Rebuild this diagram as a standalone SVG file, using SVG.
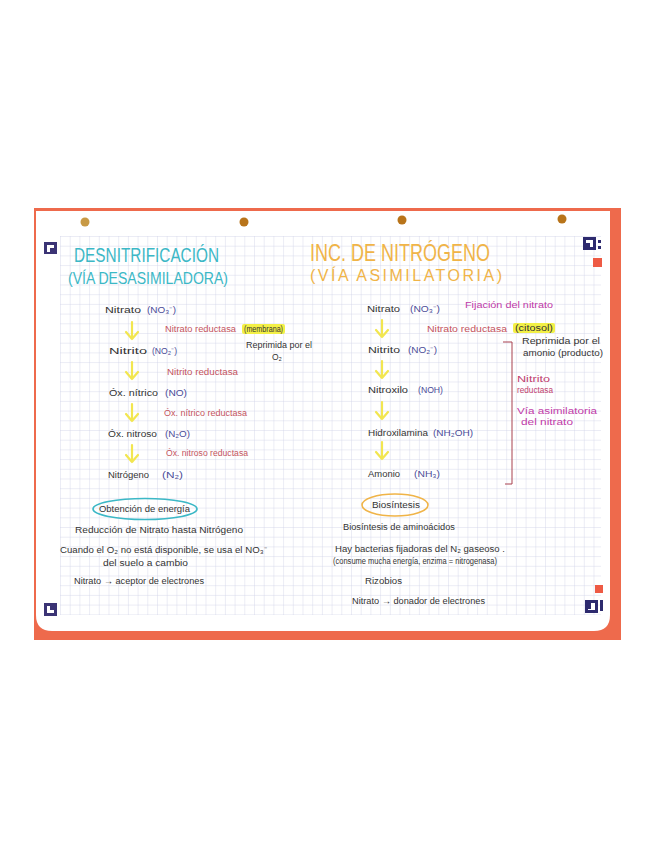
<svg xmlns="http://www.w3.org/2000/svg" width="655" height="848" viewBox="0 0 655 848">
<defs>
<pattern id="grid" x="60" y="236" width="9.7" height="9.7" patternUnits="userSpaceOnUse">
<path d="M0 0H9.7M0 0V9.7" fill="none" stroke="#cdd0e6" stroke-width="0.8"/>
</pattern>
<g id="arrow">
<path d="M0 0V17M-6 10L0 17L6 10" fill="none" stroke="#f2e650" stroke-width="2.2" stroke-linecap="round" stroke-linejoin="round"/>
</g>
</defs>
<style>
text{font-family:"Liberation Sans",Arial,sans-serif;}
.t{font-size:8.5px;fill:#333333;}
.f{font-size:8.5px;fill:#4b4c98;}
.e{font-size:8.5px;fill:#c4545e;}
.r{font-size:8.5px;fill:#c0406e;}
.m{font-size:8.5px;fill:#c03aa8;}
.tt{fill:#3cb8c6;}
.to{fill:#f0b448;}
.hl{fill:#f3f046;}
</style>
<rect width="655" height="848" fill="#ffffff"/>
<g id="paper">
<rect x="34" y="208" width="587" height="432" fill="#ee6a4c"/>
<path d="M36 211H610V615Q610 631 594 631H52Q36 631 36 615Z" fill="#ffffff"/>
<rect x="60" y="236" width="541" height="379" fill="url(#grid)"/>
<circle cx="85" cy="222" r="4.5" fill="#c89a45"/>
<circle cx="244" cy="222" r="4.5" fill="#b8741a"/>
<circle cx="402" cy="220" r="4.5" fill="#b8741a"/>
<circle cx="562" cy="219" r="4.5" fill="#b8741a"/>
<rect x="44" y="242" width="13" height="12" fill="#3b3475"/>
<path d="M47 252V245H54V248H50V252Z" fill="#ffffff"/>
<rect x="583" y="237" width="13" height="13" fill="#2d2a6e"/>
<path d="M586 240H593V247H590V243H586Z" fill="#ffffff"/>
<rect x="598" y="240" width="3" height="3" fill="#2d2a6e"/>
<rect x="598" y="246" width="3" height="3" fill="#2d2a6e"/>
<rect x="593" y="258" width="9" height="9" fill="#ee5a44"/>
<rect x="44" y="603" width="13" height="13" fill="#3b3475"/>
<path d="M47 606V613H54V610H50V606Z" fill="#ffffff"/>
<rect x="595" y="585" width="8" height="8" fill="#ee5a44"/>
<rect x="585" y="600" width="13" height="13" fill="#2d2a6e"/>
<path d="M588 609H591V603H595V610H588Z" fill="#ffffff"/>
<rect x="600" y="600" width="3" height="11" fill="#2d2a6e"/>
</g>
<g id="title-left">
<text x="74" y="262" font-size="21" class="tt" textLength="145" lengthAdjust="spacingAndGlyphs">DESNITRIFICACIÓN</text>
<text x="68" y="284" font-size="16" class="tt" textLength="160" lengthAdjust="spacingAndGlyphs">(VÍA DESASIMILADORA)</text>
</g>
<g id="title-right">
<text x="310" y="261" font-size="24" class="to" textLength="180" lengthAdjust="spacingAndGlyphs">INC. DE NITRÓGENO</text>
<text x="310" y="281" font-size="16" class="to" textLength="192" lengthAdjust="spacing">(VÍA ASIMILATORIA)</text>
</g>
<g id="connectors">
<use href="#arrow" x="132" y="322"/>
<use href="#arrow" x="132" y="362"/>
<use href="#arrow" x="132" y="404"/>
<use href="#arrow" x="132" y="445"/>
<use href="#arrow" x="382" y="320"/>
<use href="#arrow" x="382" y="361"/>
<use href="#arrow" x="382" y="402"/>
<use href="#arrow" x="382" y="442"/>
<path d="M503 342H512V484H505" fill="none" stroke="#a8404e" stroke-width="1"/>
</g>
<g id="l-nitrato">
<text x="105" y="313" class="t" textLength="36" lengthAdjust="spacingAndGlyphs">Nitrato</text>
<text x="147" y="313" class="f" textLength="29" lengthAdjust="spacingAndGlyphs">(NO₃⁻)</text>
</g>
<g id="l-enz1">
<text x="165" y="332" class="e" textLength="71" lengthAdjust="spacingAndGlyphs">Nitrato reductasa</text>
<rect x="242" y="324" width="43" height="10" rx="2" class="hl"/>
<text x="244" y="332" class="t" textLength="39" lengthAdjust="spacingAndGlyphs">(membrana)</text>
</g>
<g id="l-reprimida">
<text x="246" y="348" class="t" textLength="66" lengthAdjust="spacingAndGlyphs">Reprimida por el</text>
<text x="272" y="360" class="t">O₂</text>
</g>
<g id="l-nitrito">
<text x="109" y="354" class="t" textLength="38" lengthAdjust="spacingAndGlyphs">Nitrito</text>
<text x="152" y="354" class="f" textLength="25" lengthAdjust="spacingAndGlyphs">(NO₂⁻)</text>
</g>
<g id="l-enz2">
<text x="167" y="375" class="e" textLength="71" lengthAdjust="spacingAndGlyphs">Nitrito reductasa</text>
</g>
<g id="l-ox-nitrico">
<text x="109" y="396" class="t" textLength="49" lengthAdjust="spacingAndGlyphs">Óx. nítrico</text>
<text x="165" y="396" class="f" textLength="22" lengthAdjust="spacingAndGlyphs">(NO)</text>
</g>
<g id="l-enz3">
<text x="164" y="416" class="e" textLength="83" lengthAdjust="spacingAndGlyphs">Óx. nítrico reductasa</text>
</g>
<g id="l-ox-nitroso">
<text x="108" y="437" class="t" textLength="49" lengthAdjust="spacingAndGlyphs">Óx. nitroso</text>
<text x="165" y="437" class="f" textLength="25" lengthAdjust="spacingAndGlyphs">(N₂O)</text>
</g>
<g id="l-enz4">
<text x="166" y="456" class="e" textLength="82" lengthAdjust="spacingAndGlyphs">Óx. nitroso reductasa</text>
</g>
<g id="l-nitrogeno">
<text x="108" y="478" class="t" textLength="41" lengthAdjust="spacingAndGlyphs">Nitrógeno</text>
<text x="162" y="478" class="f" textLength="21" lengthAdjust="spacingAndGlyphs">(N₂)</text>
</g>
<g id="l-energia">
<ellipse cx="145" cy="509" rx="52" ry="10.5" fill="none" stroke="#3cb8c6" stroke-width="1.6"/>
<text x="99" y="512" class="t" textLength="91" lengthAdjust="spacingAndGlyphs">Obtención de energía</text>
</g>
<g id="l-notes">
<text x="75" y="533" class="t" textLength="168" lengthAdjust="spacingAndGlyphs">Reducción de Nitrato hasta Nitrógeno</text>
<text x="60" y="553" class="t" textLength="207" lengthAdjust="spacingAndGlyphs">Cuando el O₂ no está disponible, se usa el NO₃⁻</text>
<text x="103" y="566" class="t" textLength="85" lengthAdjust="spacingAndGlyphs">del suelo a cambio</text>
<text x="74" y="584" class="t" textLength="130" lengthAdjust="spacingAndGlyphs">Nitrato → aceptor de electrones</text>
</g>
<g id="r-nitrato">
<text x="367" y="312" class="t" textLength="33" lengthAdjust="spacingAndGlyphs">Nitrato</text>
<text x="410" y="312" class="f" textLength="30" lengthAdjust="spacingAndGlyphs">(NO₃⁻)</text>
</g>
<g id="r-fijacion">
<text x="465" y="308" class="m" textLength="88" lengthAdjust="spacingAndGlyphs">Fijación del nitrato</text>
</g>
<g id="r-enz1">
<text x="427" y="332" class="e" textLength="80" lengthAdjust="spacingAndGlyphs">Nitrato reductasa</text>
<rect x="513" y="323" width="42" height="10" rx="2" class="hl"/>
<text x="515" y="331" class="t" textLength="38" lengthAdjust="spacingAndGlyphs">(citosol)</text>
</g>
<g id="r-reprimida">
<text x="522" y="344" class="t" textLength="78" lengthAdjust="spacingAndGlyphs">Reprimida por el</text>
<text x="523" y="356" class="t" textLength="80" lengthAdjust="spacingAndGlyphs">amonio (producto)</text>
</g>
<g id="r-nitrito">
<text x="368" y="353" class="t" textLength="32" lengthAdjust="spacingAndGlyphs">Nitrito</text>
<text x="408" y="353" class="f" textLength="29" lengthAdjust="spacingAndGlyphs">(NO₂⁻)</text>
</g>
<g id="r-enz2">
<text x="517" y="382" class="r" textLength="33" lengthAdjust="spacingAndGlyphs">Nitrito</text>
<text x="517" y="393" class="r" textLength="36" lengthAdjust="spacingAndGlyphs">reductasa</text>
</g>
<g id="r-via">
<text x="517" y="414" class="m" textLength="80" lengthAdjust="spacingAndGlyphs">Vía asimilatoria</text>
<text x="521" y="425" class="m" textLength="52" lengthAdjust="spacingAndGlyphs">del nitrato</text>
</g>
<g id="r-nitroxilo">
<text x="368" y="393" class="t" textLength="40" lengthAdjust="spacingAndGlyphs">Nitroxilo</text>
<text x="418" y="393" class="f" textLength="25" lengthAdjust="spacingAndGlyphs">(NOH)</text>
</g>
<g id="r-hidroxilamina">
<text x="368" y="436" class="t" textLength="60" lengthAdjust="spacingAndGlyphs">Hidroxilamina</text>
<text x="433" y="436" class="f" textLength="40" lengthAdjust="spacingAndGlyphs">(NH₂OH)</text>
</g>
<g id="r-amonio">
<text x="368" y="477" class="t" textLength="32" lengthAdjust="spacingAndGlyphs">Amonio</text>
<text x="414" y="477" class="f" textLength="26" lengthAdjust="spacingAndGlyphs">(NH₃)</text>
</g>
<g id="r-biosintesis">
<ellipse cx="395" cy="505" rx="33" ry="11" fill="none" stroke="#f0b448" stroke-width="1.6"/>
<text x="372" y="508" class="t" textLength="48" lengthAdjust="spacingAndGlyphs">Biosíntesis</text>
</g>
<g id="r-notes">
<text x="343" y="530" class="t" textLength="112" lengthAdjust="spacingAndGlyphs">Biosíntesis de aminoácidos</text>
<text x="335" y="552" class="t" textLength="170" lengthAdjust="spacingAndGlyphs">Hay bacterias fijadoras del N₂ gaseoso .</text>
<text x="333" y="564" class="t" textLength="164" lengthAdjust="spacingAndGlyphs">(consume mucha energía, enzima = nitrogenasa)</text>
<text x="365" y="584" class="t" textLength="37" lengthAdjust="spacingAndGlyphs">Rizobios</text>
<text x="352" y="604" class="t" textLength="133" lengthAdjust="spacingAndGlyphs">Nitrato → donador de electrones</text>
</g>
</svg>
